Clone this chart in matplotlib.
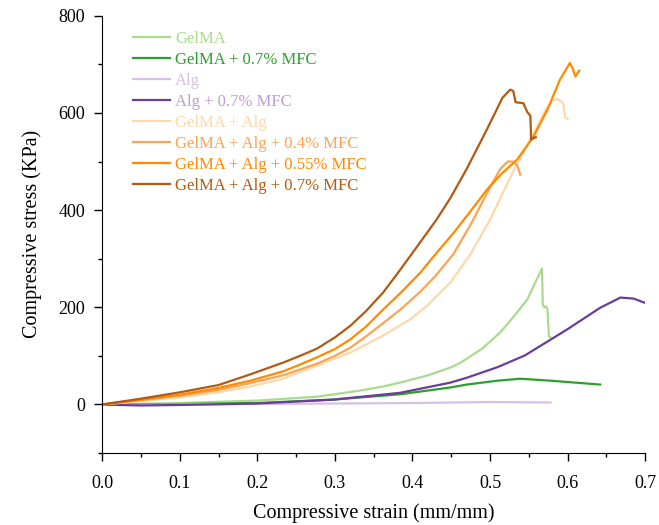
import numpy as np
import matplotlib
matplotlib.use('Agg')
import matplotlib.pyplot as plt
from matplotlib.ticker import MultipleLocator, FormatStrFormatter

plt.rcParams['font.family'] = ['Liberation Serif', 'DejaVu Serif']

# GelMA
gel_x = [0, 0.1, 0.2, 0.277, 0.33, 0.362, 0.384, 0.42, 0.449, 0.462, 0.49, 0.513, 0.53, 0.548, 0.567,
         0.568, 0.570, 0.572, 0.574, 0.576, 0.578]
gel_y = [0, 3, 8, 16, 28, 37, 45, 60, 76, 86, 115, 148, 180, 216, 280,
         206, 200, 202, 196, 140, 138]
# GelMA + 0.7% MFC
gelm_x = [0, 0.05, 0.1, 0.2, 0.298, 0.384, 0.449, 0.47, 0.51, 0.539, 0.578, 0.61, 0.642]
gelm_y = [0, 0, 1, 3, 10, 21, 35, 41, 49, 53, 49, 45, 41]
# Alg
alg_x = [0, 0.05, 0.1, 0.2, 0.3, 0.4, 0.5, 0.578]
alg_y = [0, -1, 0, 1, 2, 3, 5, 4]
# Alg + 0.7% MFC
algm_x = [0, 0.02, 0.05, 0.1, 0.2, 0.298, 0.384, 0.449, 0.47, 0.51, 0.545, 0.599, 0.642, 0.668, 0.685, 0.7]
algm_y = [0, -1, -2, -1, 2, 10, 24, 45, 55, 77, 101, 154, 199, 220, 218, 209]
# GelMA + Alg
ga_x = [0, 0.05, 0.1, 0.15, 0.191, 0.233, 0.277, 0.32, 0.36, 0.397, 0.42, 0.449, 0.475, 0.5, 0.515,
        0.53, 0.545, 0.56, 0.572, 0.58, 0.586, 0.593, 0.595, 0.597, 0.6]
ga_y = [0, 7, 15, 25, 37, 53, 80, 107, 140, 175, 205, 251, 310, 380, 430,
        480, 525, 570, 608, 625, 629, 623, 613, 590, 588]
# GelMA + Alg + 0.4% MFC
ga4_x = [0, 0.05, 0.1, 0.15, 0.191, 0.233, 0.277, 0.3, 0.32, 0.34, 0.362, 0.385, 0.41, 0.43, 0.453,
         0.475, 0.5, 0.513, 0.523, 0.53, 0.535, 0.539]
ga4_y = [0, 9, 18, 30, 44, 60, 84, 100, 117, 140, 167, 196, 232, 265, 310,
         370, 447, 484, 500, 500, 492, 473]
# GelMA + Alg + 0.55% MFC
ga55_x = [0, 0.05, 0.1, 0.15, 0.191, 0.233, 0.255, 0.277, 0.3, 0.32, 0.34, 0.362, 0.385, 0.41, 0.427,
          0.453, 0.475, 0.496, 0.515, 0.535, 0.556, 0.575, 0.59, 0.603, 0.607, 0.61, 0.615]
ga55_y = [0, 10, 20, 34, 49, 68, 82, 97, 114, 134, 160, 195, 230, 271, 304,
          353, 398, 442, 475, 504, 551, 610, 668, 703, 690, 675, 687]
# GelMA + Alg + 0.7% MFC
ga7_x = [0, 0.05, 0.1, 0.15, 0.191, 0.233, 0.255, 0.277, 0.3, 0.32, 0.34, 0.362, 0.38, 0.406, 0.43,
         0.449, 0.47, 0.496, 0.516, 0.526, 0.530, 0.533, 0.543, 0.548, 0.552, 0.553, 0.556, 0.559]
ga7_y = [0, 12, 25, 40, 62, 86, 100, 115, 138, 162, 192, 230, 268, 325, 378,
         425, 485, 566, 631, 648, 645, 622, 620, 602, 594, 545, 548, 550]

series = [
    (gel_x, gel_y, 'GelMA', '#a8dc8c', '#a8dc8c'),
    (gelm_x, gelm_y, 'GelMA + 0.7% MFC', '#2ca02c', '#2ca02c'),
    (alg_x, alg_y, 'Alg', '#d8bfe3', '#d8bfe3'),
    (algm_x, algm_y, 'Alg + 0.7% MFC', '#6a3d9a', '#c29ad6'),
    (ga_x, ga_y, 'GelMA + Alg', '#fdd8aa', '#fdd8aa'),
    (ga4_x, ga4_y, 'GelMA + Alg + 0.4% MFC', '#fda452', '#fda452'),
    (ga55_x, ga55_y, 'GelMA + Alg + 0.55% MFC', '#ff8a00', '#ff8a00'),
    (ga7_x, ga7_y, 'GelMA + Alg + 0.7% MFC', '#b35a12', '#b35a12'),
]

fig = plt.figure(figsize=(6.59, 5.25), dpi=100)
ax = fig.add_axes([0.155, 0.137, 0.824, 0.833])

for x, y, name, c, tc in series:
    ax.plot(x, y, color=c, lw=1.6, label=name)

ax.set_xlim(0, 0.7)
ax.set_ylim(-100, 800)
ax.xaxis.set_major_locator(MultipleLocator(0.1))
ax.xaxis.set_minor_locator(MultipleLocator(0.05))
ax.yaxis.set_major_locator(MultipleLocator(200))
ax.yaxis.set_minor_locator(MultipleLocator(100))
ax.xaxis.set_major_formatter(FormatStrFormatter('%.1f'))
ax.tick_params(which='major', direction='out', length=6, width=1, labelsize=13, pad=6)
ax.tick_params(axis='x', which='major', pad=10)
ax.tick_params(which='minor', direction='out', length=3, width=1)
ax.spines['top'].set_visible(False)
ax.spines['right'].set_visible(False)
ax.set_xlabel('Compressive strain (mm/mm)', fontsize=14.5, labelpad=8)
ax.set_ylabel('Compressive stress (KPa)', fontsize=14.5, labelpad=12)

leg = ax.legend(loc='upper left', bbox_to_anchor=(0.03, 1.0), frameon=False, fontsize=12,
                handlelength=2.2, handletextpad=0.3, labelspacing=0.3)
for txt, s in zip(leg.get_texts(), series):
    txt.set_color(s[4])

fig.savefig('out.png', dpi=100)
